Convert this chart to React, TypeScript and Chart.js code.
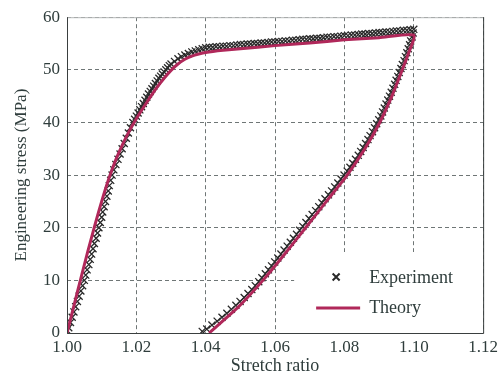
import React, { useEffect, useRef } from "react";
import { Chart, registerables } from "chart.js";

Chart.register(...registerables);

// ---- Data ----
const xTickValues = [1.0, 1.02, 1.04, 1.06, 1.08, 1.1, 1.12];
const yTickValues = [0, 10, 20, 30, 40, 50, 60];

// Experiment: loading branch, steep part
const expRiseX = [
  1.0, 1.0005, 1.001, 1.0015, 1.002, 1.0025, 1.003, 1.0035, 1.004, 1.0045,
  1.005, 1.0054, 1.0058, 1.0063, 1.0067, 1.0071, 1.0075, 1.0079, 1.0084,
  1.0088, 1.0092, 1.0096, 1.01, 1.0103, 1.0107, 1.0111, 1.0115, 1.0119,
  1.0122, 1.0126, 1.013, 1.0135, 1.0141, 1.0147, 1.0153, 1.0159, 1.0165,
  1.0171, 1.0177, 1.0183, 1.019,
];
const expRiseY = [
  0.5, 1, 2, 3, 4, 5, 6, 7, 8, 9, 10, 11, 12, 13, 14, 15, 16, 17, 18, 19, 20,
  21, 22, 23, 24, 25, 26, 27, 28, 29, 30, 31, 32, 33, 34, 35, 36, 37, 38, 39,
  40,
];
// Experiment: loading branch, knee
const expKneeX = [
  1.0195, 1.02, 1.0205, 1.021, 1.0215, 1.022, 1.0225, 1.023, 1.0235, 1.024,
  1.0245, 1.025, 1.0255, 1.026, 1.0265, 1.027, 1.0275, 1.028, 1.0285, 1.029,
  1.0295, 1.03, 1.031, 1.032, 1.033, 1.034, 1.035, 1.036, 1.037, 1.038,
  1.039, 1.04,
];
const expKneeY = [
  40.6, 41.2, 41.8, 42.4, 43.0, 43.6, 44.2, 44.8, 45.4, 45.9, 46.4, 46.9,
  47.4, 47.9, 48.4, 48.8, 49.2, 49.6, 50.0, 50.4, 50.8, 51.1, 51.6, 52.1,
  52.5, 52.8, 53.1, 53.4, 53.6, 53.8, 54.0, 54.2,
];
// Experiment: loading branch, plateau
const expPlateauX = [
  1.041, 1.042, 1.043, 1.044, 1.045, 1.046, 1.047, 1.048, 1.049, 1.05, 1.051,
  1.052, 1.053, 1.054, 1.055, 1.056, 1.057, 1.058, 1.059, 1.06, 1.061, 1.062,
  1.063, 1.064, 1.065, 1.066, 1.067, 1.068, 1.069, 1.07, 1.071, 1.072, 1.073,
  1.074, 1.075, 1.076, 1.077, 1.078, 1.079, 1.08, 1.081, 1.082, 1.083, 1.084,
  1.085, 1.086, 1.087, 1.088, 1.089, 1.09, 1.091, 1.092, 1.093, 1.094, 1.095,
  1.096, 1.097, 1.098, 1.099, 1.1,
];
const expPlateauY = [
  54.3, 54.3, 54.4, 54.4, 54.5, 54.5, 54.6, 54.6, 54.7, 54.8, 54.8, 54.9,
  54.9, 55.0, 55.0, 55.1, 55.1, 55.2, 55.3, 55.3, 55.4, 55.4, 55.5, 55.5,
  55.6, 55.6, 55.7, 55.8, 55.8, 55.9, 55.9, 56.0, 56.0, 56.1, 56.2, 56.2,
  56.3, 56.3, 56.4, 56.5, 56.5, 56.6, 56.6, 56.7, 56.8, 56.8, 56.9, 56.9,
  57.0, 57.1, 57.1, 57.2, 57.2, 57.3, 57.4, 57.4, 57.5, 57.5, 57.6, 57.7,
];
// Experiment: unloading branch
const expUnloadX = [
  1.0998, 1.0995, 1.0991, 1.0988, 1.0984, 1.098, 1.0976, 1.0972, 1.0967,
  1.0963, 1.0958, 1.0954, 1.0949, 1.0945, 1.094, 1.0935, 1.093, 1.0925,
  1.092, 1.0915, 1.091, 1.0905, 1.0899, 1.0893, 1.0887, 1.0881, 1.0874,
  1.0868, 1.0861, 1.0854, 1.0847, 1.084, 1.0832, 1.0824, 1.0816, 1.0808,
  1.0799, 1.079, 1.0781, 1.0772, 1.0763, 1.0754, 1.0744, 1.0735, 1.0726,
  1.0717, 1.0707, 1.0698, 1.0689, 1.068, 1.0671, 1.0662, 1.0653, 1.0644,
  1.0635, 1.0626, 1.0617, 1.0608, 1.0599, 1.059, 1.0581, 1.0572, 1.0562,
  1.0553, 1.0543, 1.0533, 1.0522, 1.0511, 1.0499, 1.0487, 1.0474, 1.0461,
  1.0447, 1.0433, 1.0418, 1.0403, 1.039,
];
const expUnloadY = [
  57, 56.25, 55.5, 54.75, 54, 53.25, 52.5, 51.75, 51, 50.25, 49.5, 48.75, 48,
  47.25, 46.5, 45.75, 45, 44.25, 43.5, 42.75, 42, 41.25, 40.5, 39.75, 39,
  38.25, 37.5, 36.75, 36, 35.25, 34.5, 33.75, 33, 32.25, 31.5, 30.75, 30,
  29.25, 28.5, 27.75, 27, 26.25, 25.5, 24.75, 24, 23.25, 22.5, 21.75, 21,
  20.25, 19.5, 18.75, 18, 17.25, 16.5, 15.75, 15, 14.25, 13.5, 12.75, 12,
  11.25, 10.5, 9.75, 9, 8.25, 7.5, 6.75, 6, 5.25, 4.5, 3.75, 3, 2.25, 1.5,
  0.75, 0.3,
];

// Theory curve (loading then unloading)
const theoryX = [
  1.0, 1.002, 1.004, 1.006, 1.008, 1.01, 1.012, 1.014, 1.016, 1.018, 1.02,
  1.022, 1.024, 1.026, 1.028, 1.03, 1.032, 1.034, 1.036, 1.038, 1.04, 1.045,
  1.05, 1.06, 1.07, 1.08, 1.09, 1.1, 1.0984, 1.0967, 1.0937, 1.0902, 1.0859,
  1.0808, 1.0748, 1.0688, 1.0628, 1.0565, 1.0495, 1.041,
];
const theoryY = [
  0, 5.2, 10.4, 15.5, 20.4, 25, 29.2, 32.8, 35.8, 38.4, 40.7, 42.8, 44.8,
  46.7, 48.4, 49.9, 51.1, 52, 52.6, 53, 53.3, 53.7, 54.0, 54.6, 55.1, 55.7,
  56.1, 56.6, 53, 50, 45, 40, 35, 30, 25, 20, 15, 10, 5, 0,
];

const legendLabels = ["Experiment", "Theory"];
const xTitle = "Stretch ratio";
const yTitle = "Engineering stress (MPa)";

const THEORY_COLOR = "#b0285a";
const EXP_COLOR = "#2a2a2a";
const TEXT_COLOR = "#2f3d3c";
const FONT = "'Liberation Serif', 'Times New Roman', serif";

const overlayPlugin = {
  id: "overlayPlugin",
  beforeDatasetsDraw(chart: any) {
    const { ctx, chartArea } = chart;
    ctx.save();
    ctx.fillStyle = "#ffffff";
    ctx.fillRect(chartArea.right - 189, chartArea.bottom - 81, 189, 81);
    ctx.restore();
  },
  afterDraw(chart: any) {
    const { ctx, chartArea } = chart;
    const { left, right, top, bottom } = chartArea;
    ctx.save();
    // frame
    ctx.lineWidth = 1;
    ctx.strokeStyle = "#b5b8b8";
    ctx.beginPath();
    ctx.moveTo(left, top + 0.5);
    ctx.lineTo(right, top + 0.5);
    ctx.stroke();
    ctx.strokeStyle = "#3a3f3f";
    ctx.beginPath();
    ctx.moveTo(left + 0.5, top);
    ctx.lineTo(left + 0.5, bottom + 0.5);
    ctx.lineTo(right + 0.5, bottom + 0.5);
    ctx.lineTo(right + 0.5, top);
    ctx.stroke();

    // legend
    const lx = right - 147; // marker centre
    const y1 = bottom - 56;
    const y2 = bottom - 25;
    ctx.strokeStyle = EXP_COLOR;
    ctx.lineWidth = 2;
    const s = 3.5;
    ctx.beginPath();
    ctx.moveTo(lx - s, y1 - s);
    ctx.lineTo(lx + s, y1 + s);
    ctx.moveTo(lx + s, y1 - s);
    ctx.lineTo(lx - s, y1 + s);
    ctx.stroke();

    ctx.strokeStyle = THEORY_COLOR;
    ctx.lineWidth = 3;
    ctx.beginPath();
    ctx.moveTo(lx - 20, y2);
    ctx.lineTo(lx + 24, y2);
    ctx.stroke();

    ctx.fillStyle = TEXT_COLOR;
    ctx.font = `18px ${FONT}`;
    ctx.textBaseline = "middle";
    ctx.textAlign = "left";
    ctx.fillText(legendLabels[0], lx + 33, y1 + 1);
    ctx.fillText(legendLabels[1], lx + 33, y2);
    ctx.restore();
  },
};

const zip = (xs: number[], ys: number[]) => xs.map((x, i) => ({ x, y: ys[i] }));

export default function App() {
  const ref = useRef<HTMLCanvasElement | null>(null);

  useEffect(() => {
    if (!ref.current) return;
    const expData = [
      ...zip(expRiseX, expRiseY),
      ...zip(expKneeX, expKneeY),
      ...zip(expPlateauX, expPlateauY),
      ...zip(expUnloadX, expUnloadY),
    ];
    const theoryData = zip(theoryX, theoryY);

    const chart = new Chart(ref.current, {
      type: "scatter",
      data: {
        datasets: [
          {
            label: legendLabels[1],
            data: theoryData,
            showLine: true,
            borderColor: THEORY_COLOR,
            borderWidth: 3,
            pointRadius: 0,
            tension: 0.2,
            order: 0,
          },
          {
            label: legendLabels[0],
            data: expData,
            showLine: false,
            pointStyle: "crossRot",
            pointRadius: 5,
            borderColor: EXP_COLOR,
            backgroundColor: EXP_COLOR,
            pointBorderWidth: 1.3,
            order: 1,
          },
        ],
      },
      options: {
        animation: false,
        responsive: false,
        layout: { padding: { left: 0, right: 16, top: 15, bottom: 0 } },
        plugins: {
          legend: { display: false },
          tooltip: { enabled: false },
        },
        scales: {
          x: {
            type: "linear",
            min: 1.0,
            max: 1.12,
            afterBuildTicks: (scale: any) => {
              scale.ticks = xTickValues.map((v) => ({ value: v }));
            },
            afterFit: (scale: any) => {
              scale.height = 44;
            },
            ticks: {
              color: TEXT_COLOR,
              font: { family: FONT, size: 17 },
              padding: 4,
              callback: (v: any) => Number(v).toFixed(2),
            },
            grid: {
              color: "#6f7676",
              lineWidth: 1,
              drawTicks: false,
            },
            border: { display: false, dash: [4, 3] },
            title: {
              display: true,
              text: xTitle,
              color: TEXT_COLOR,
              font: { family: FONT, size: 18 },
              padding: { top: 0, bottom: 0 },
            },
          },
          y: {
            type: "linear",
            min: 0,
            max: 60,
            afterBuildTicks: (scale: any) => {
              scale.ticks = yTickValues.map((v) => ({ value: v }));
            },
            afterFit: (scale: any) => {
              scale.width = 67;
            },
            ticks: {
              color: TEXT_COLOR,
              font: { family: FONT, size: 17 },
              padding: 7,
            },
            grid: {
              color: "#6f7676",
              lineWidth: 1,
              drawTicks: false,
            },
            border: { display: false, dash: [4, 3] },
            title: {
              display: true,
              text: yTitle,
              color: TEXT_COLOR,
              font: { family: FONT, size: 17 },
              padding: { top: 11, bottom: 0 },
            },
          },
        },
      },
      plugins: [overlayPlugin],
    } as any);

    return () => chart.destroy();
  }, []);

  return (
    <div
      style={{
        position: "fixed",
        left: 0,
        top: 0,
        width: 502,
        height: 377,
        background: "#ffffff",
      }}
    >
      <canvas ref={ref} width={502} height={377} />
    </div>
  );
}
